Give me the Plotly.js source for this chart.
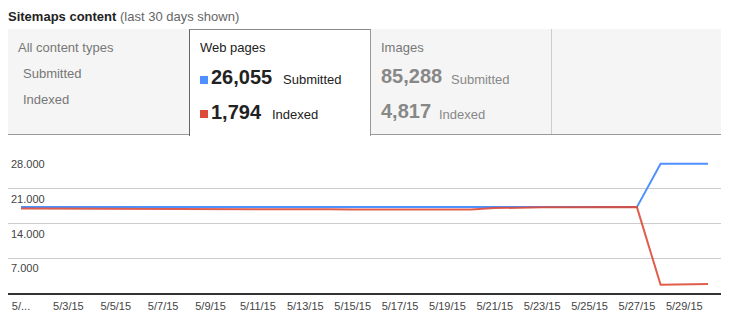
<!DOCTYPE html>
<html>
<head>
<meta charset="utf-8">
<script src="https://cdn.plot.ly/plotly-3.0.1.min.js"></script>
<style>
  html, body { margin:0; padding:0; width:731px; height:318px; overflow:hidden; background:#fff;
    font-family: "Liberation Sans", Arial, sans-serif; }
  .abs { position:absolute; white-space:nowrap; }
  #title { left:8px; top:9px; font-size:13px; color:#222; }
  #title b { font-weight:bold; }
  #title span { color:#666; }
  #panel { left:8px; top:29px; width:713px; height:105px; background:#f5f5f5; border-bottom:1px solid #999; }
  #tab { left:189px; top:29px; width:182px; height:107px; background:#fff;
    border-left:1px solid #666; border-top:1px solid #888; border-right:1px solid #999; box-sizing:border-box; }
  #sep { left:551px; top:29px; width:1px; height:105px; background:#ccc; }
  .lbl { font-size:13px; line-height:13px; }
  .big { font-size:20px; line-height:20px; font-weight:bold; }
  .sq { width:8px; height:8px; }
  #chart { position:absolute; left:0; top:140px; width:731px; height:178px; }
</style>
</head>
<body>
<div id="title" class="abs"></div>
<div id="panel" class="abs"></div>
<div id="tab" class="abs"></div>
<div id="sep" class="abs"></div>
<div id="hdr"></div>
<div id="chart"></div>
<script>
// ---- data ----
const dates = ["2015-05-01","2015-05-02","2015-05-03","2015-05-04","2015-05-05","2015-05-06","2015-05-07","2015-05-08","2015-05-09","2015-05-10",
               "2015-05-11","2015-05-12","2015-05-13","2015-05-14","2015-05-15","2015-05-16","2015-05-17","2015-05-18","2015-05-19","2015-05-20",
               "2015-05-21","2015-05-22","2015-05-23","2015-05-24","2015-05-25","2015-05-26","2015-05-27","2015-05-28","2015-05-29","2015-05-30"];
const submitted = [17300,17300,17300,17300,17300,17300,17300,17300,17300,17300,
                   17300,17300,17300,17300,17300,17300,17300,17300,17300,17300,
                   17300,17300,17300,17300,17300,17300,17300,26055,26055,26055];
const indexed = [17000,17000,17000,17000,16950,16950,16950,16950,16900,16900,
                 16850,16850,16850,16850,16800,16800,16800,16800,16750,16800,
                 17100,17250,17250,17250,17280,17300,17300,1650,1720,1794];
const tickDates = ["2015-05-01","2015-05-03","2015-05-05","2015-05-07","2015-05-09","2015-05-11","2015-05-13","2015-05-15",
                   "2015-05-17","2015-05-19","2015-05-21","2015-05-23","2015-05-25","2015-05-27","2015-05-29"];
const tickLabels = ["5/...","5/3/15","5/5/15","5/7/15","5/9/15","5/11/15","5/13/15","5/15/15",
                    "5/17/15","5/19/15","5/21/15","5/23/15","5/25/15","5/27/15","5/29/15"];
const yVals = [7000,14000,21000,28000];
const yLabels = ["7.000","14.000","21.000","28.000"];
const seriesNames = ["Submitted","Indexed"];
const webTotals = ["26,055","1,794"];
const imageTotals = ["85,288","4,817"];
const colors = ["#4d90fe","#dd4b39"];

// ---- header ----
document.getElementById('title').innerHTML = '<b>Sitemaps content</b> <span>(last 30 days shown)</span>';
const hdr = document.getElementById('hdr');
function add(html, left, top, cls, style) {
  const d = document.createElement('div');
  d.className = 'abs ' + (cls||'');
  d.style.left = left + 'px'; d.style.top = top + 'px';
  if (style) d.style.cssText += style;
  d.innerHTML = html; hdr.appendChild(d); return d;
}
add('All content types', 18, 41, 'lbl', 'color:#777');
add(seriesNames[0], 23, 67, 'lbl', 'color:#777');
add(seriesNames[1], 23, 93, 'lbl', 'color:#777');
add('Web pages', 200, 41, 'lbl', 'color:#222');
add('', 200, 76, 'sq', 'background:' + colors[0]);
add(webTotals[0], 211, 67, 'big', 'color:#222');
add(seriesNames[0], 283, 73, 'lbl', 'color:#222');
add('', 200, 110, 'sq', 'background:' + colors[1]);
add(webTotals[1], 211, 102, 'big', 'color:#222');
add(seriesNames[1], 272, 108, 'lbl', 'color:#222');
add('Images', 381, 41, 'lbl', 'color:#777');
add(imageTotals[0], 381, 66, 'big', 'color:#888');
add(seriesNames[0], 451, 73, 'lbl', 'color:#888');
add(imageTotals[1], 381, 101, 'big', 'color:#888');
add(seriesNames[1], 439, 108, 'lbl', 'color:#888');

// ---- chart ----
const traces = [
  {x: dates, y: submitted, name: seriesNames[0], type: 'scatter', mode: 'lines',
   line: {color: colors[0], width: 2}},
  {x: dates, y: indexed, name: seriesNames[1], type: 'scatter', mode: 'lines',
   line: {color: colors[1], width: 2}, opacity: 0.9}
];
const annotations = yVals.map((v, i) => ({
  xref: 'paper', yref: 'y', x: 0, y: v, xanchor: 'left', yanchor: 'top',
  text: yLabels[i], showarrow: false, xshift: 1, yshift: -2,
  font: {family: '"Liberation Sans", Arial, sans-serif', size: 11, color: '#444'}
}));
const layout = {
  width: 731, height: 178,
  margin: {l: 8, r: 10, t: 14, b: 25},
  paper_bgcolor: 'rgba(0,0,0,0)', plot_bgcolor: 'rgba(0,0,0,0)',
  showlegend: false,
  xaxis: {type: 'date', range: ['2015-04-30 10:48', '2015-05-30 13:12'],
    tickmode: 'array', tickvals: tickDates, ticktext: tickLabels,
    showgrid: false, zeroline: false, showline: true, linecolor: '#333', linewidth: 2,
    ticks: '', ticklabelstandoff: 2,
    tickfont: {family: '"Liberation Sans", Arial, sans-serif', size: 11, color: '#444'},
    fixedrange: true},
  yaxis: {range: [0, 28000], tickmode: 'array', tickvals: yVals, showticklabels: false,
    showgrid: true, gridcolor: '#ccc', gridwidth: 1, zeroline: false, showline: false, fixedrange: true},
  annotations: annotations,
  font: {family: '"Liberation Sans", Arial, sans-serif'}
};
Plotly.newPlot('chart', traces, layout, {displayModeBar: false, staticPlot: true});
</script>
</body>
</html>
